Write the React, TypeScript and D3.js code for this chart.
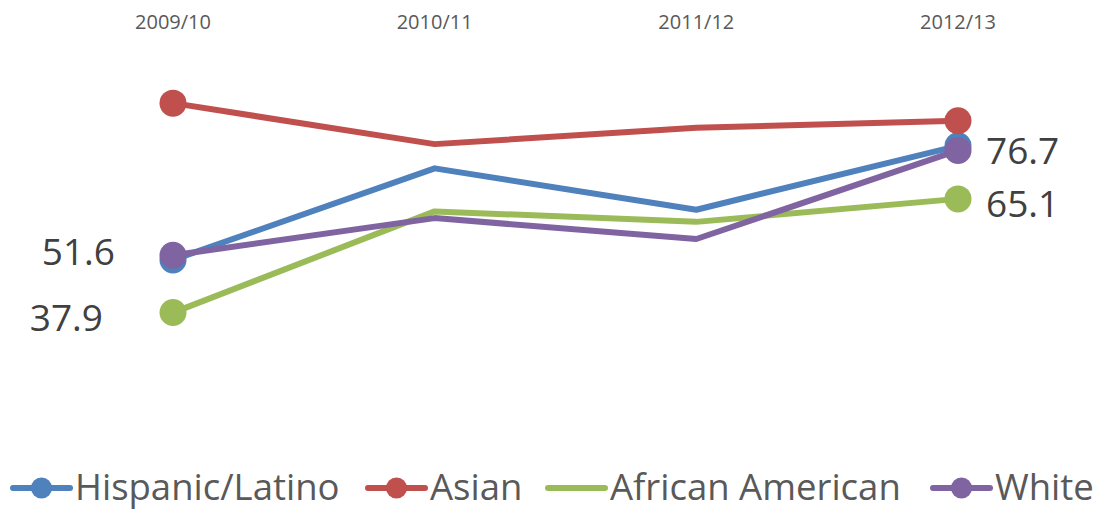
import React, { useEffect } from "react";
import * as d3 from "d3";

const categories = ["2009/10", "2010/11", "2011/12", "2012/13"];
const seriesNames = ["Hispanic/Latino", "Asian", "African American", "White"];
const hispanic = [50.5, 72.4, 62.5, 77.8];
const asian = [88.0, 78.2, 82.1, 83.8];
const africanAmerican = [37.9, 62.1, 59.6, 65.1];
const white = [51.6, 60.5, 55.5, 76.7];
const colors = ["#4F81BD", "#C0504D", "#9BBB59", "#8064A2"];
const legendHasMarker = [true, true, false, true];

const W = 1100;
const H = 510;
const FONT = "'Open Sans', 'Liberation Sans', sans-serif";

export default function App() {
  useEffect(() => {
    document.body.style.margin = "0";
  }, []);

  const data = [hispanic, asian, africanAmerican, white];
  const x = d3.scalePoint<string>().domain(categories).range([173, 958]);
  const y = d3.scaleLinear().domain([0, 100]).range([471, 53]);
  const line = d3
    .line<number>()
    .x((_, i) => x(categories[i]) as number)
    .y((d) => y(d));

  const first = categories[0];
  const last = categories[categories.length - 1];
  const x0 = x(first) as number;
  const x3 = x(last) as number;

  // legend layout
  const legendX = [13, 368, 548, 933];
  const legendLine = 57;
  const legendY = 488;

  return (
    <svg
      width={W}
      height={H}
      style={{ position: "absolute", left: 0, top: 0, background: "#fff" }}
      fontFamily={FONT}
    >
      {categories.map((c) => (
        <text
          key={c}
          x={x(c)}
          y={29}
          textAnchor="middle"
          fontSize={20}
          fill="#595959"
        >
          {c}
        </text>
      ))}

      {data.map((s, i) => (
        <g key={seriesNames[i]}>
          <path
            d={line(s) || ""}
            fill="none"
            stroke={colors[i]}
            strokeWidth={6}
            strokeLinejoin="round"
          />
          <circle cx={x0} cy={y(s[0])} r={13.5} fill={colors[i]} />
          <circle cx={x3} cy={y(s[s.length - 1])} r={13.5} fill={colors[i]} />
        </g>
      ))}

      {/* data labels */}
      <text x={x0 - 58} y={y(white[0]) + 10} textAnchor="end" fontSize={37} fill="#404040">
        {white[0].toFixed(1)}
      </text>
      <text x={x0 - 70} y={y(africanAmerican[0]) + 18} textAnchor="end" fontSize={37} fill="#404040">
        {africanAmerican[0].toFixed(1)}
      </text>
      <text x={x3 + 28} y={y(white[3]) + 14} textAnchor="start" fontSize={37} fill="#404040">
        {white[3].toFixed(1)}
      </text>
      <text x={x3 + 28} y={y(africanAmerican[3]) + 18} textAnchor="start" fontSize={37} fill="#404040">
        {africanAmerican[3].toFixed(1)}
      </text>

      {/* legend */}
      {seriesNames.map((n, i) => (
        <g key={n}>
          <line
            x1={legendX[i]}
            x2={legendX[i] + legendLine}
            y1={legendY}
            y2={legendY}
            stroke={colors[i]}
            strokeWidth={6}
            strokeLinecap="round"
          />
          {legendHasMarker[i] && (
            <circle cx={legendX[i] + legendLine / 2} cy={legendY} r={10.5} fill={colors[i]} />
          )}
          <text x={legendX[i] + legendLine + 5} y={legendY + 12} fontSize={36.5} fill="#595959">
            {n}
          </text>
        </g>
      ))}
    </svg>
  );
}
